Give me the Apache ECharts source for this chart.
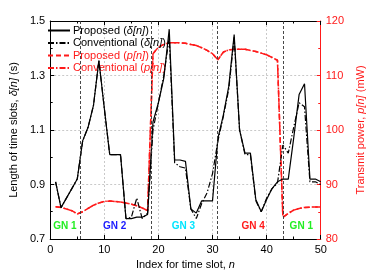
<!DOCTYPE html>
<html><head><meta charset="utf-8">
<script src="https://cdn.jsdelivr.net/npm/echarts@6/dist/echarts.min.js"></script>
<style>html,body{margin:0;padding:0;background:#fff}#c{width:374px;height:276px}</style>
</head><body><div id="c"></div>
<script>
const slots = [1,2,3,4,5,6,7,8,9,10,11,12,13,14,15,16,17,18,19,20,21,22,23,24,25,26,27,28,29,30,31,32,33,34,35,36,37,38,39,40,41,42,43,44,45,46,47,48,49,50];
const propDelta = [0.91,0.815,0.85,0.885,0.92,1.06,1.11,1.19,1.355,1.18,1.01,1.01,1.01,0.775,0.775,0.78,0.78,0.79,1.13,1.2,1.29,1.47,0.99,0.99,0.985,0.81,0.795,0.84,0.84,0.84,1.07,1.155,1.26,1.45,1.1,1.015,1.015,0.845,0.80,0.845,0.885,0.91,0.92,0.92,1.07,1.23,1.27,0.92,0.92,0.91];
const convDelta = [0.91,0.815,0.85,0.885,0.92,1.06,1.11,1.19,1.355,1.18,1.01,1.01,1.01,0.775,0.78,0.85,0.775,0.795,1.1,1.2,1.3,1.44,0.98,0.965,0.96,0.81,0.775,0.83,0.87,0.94,1.06,1.15,1.25,1.44,1.1,1.01,1.01,0.84,0.80,0.85,0.885,0.905,1.045,1.015,1.11,1.2,1.185,0.91,0.91,0.9];
const propPower = [85.9,85.8,85.5,85.2,84.6,85.0,85.6,86.2,86.6,86.9,86.95,86.9,86.8,86.6,86.4,86.1,85.7,85.2,114.0,115.2,115.7,116.0,116.0,116.0,115.9,115.7,115.5,115.1,114.6,114.0,112.9,114.3,114.7,114.8,114.8,114.8,114.6,114.4,114.1,113.8,113.3,112.8,84.0,84.7,85.3,85.6,85.8,85.85,85.85,85.85];
const convPower = [85.9,85.8,85.5,85.2,84.6,85.0,85.6,86.2,86.6,86.9,86.95,86.9,86.8,86.6,86.4,86.1,85.7,85.2,114.0,115.2,115.7,116.0,116.0,116.0,115.9,115.7,115.5,115.1,114.6,114.0,112.9,114.3,114.7,114.8,114.8,114.8,114.6,114.4,114.1,113.8,113.3,112.8,84.0,84.7,85.3,85.6,85.8,85.85,85.85,85.85];
const boundaries = [5.5, 18.6, 30.8, 43];
const gnNames = ['GN 1','GN 2','GN 3','GN 4','GN 1'];
const gnX = [2.7, 11.9, 24.6, 37.5, 46.4];
const gnY = 0.746;
const gnColors = ['#22ee22','#1a1aff','#00e5ff','#ff1a1a','#22ee22'];
const seriesNames = ['Proposed (δ[n])','Conventional (δ[n])','Proposed (p[n])','Conventional (p[n])'];

const FONT = 'Liberation Sans, Arial, sans-serif';
const pair = (xs, ys) => xs.map((x,i)=>[x, ys[i]]);

const chart = echarts.init(document.getElementById('c'), null, {renderer:'canvas'});
const tickStyle = {show:true, inside:true, length:4, lineStyle:{color:'#000', width:1}};
const minor = {show:true, splitNumber:2, length:2.5, lineStyle:{color:'#000', width:1}};
const grid = {show:true, lineStyle:{color:'#bbb', type:[2,2], width:0.8}};

chart.setOption({
  animation:false,
  grid:{left:41, right:38, top:21, bottom:37, containLabel:false},
  legend:{
    orient:'vertical', left:42, top:20, itemWidth:22, itemHeight:10, itemGap:1.5,
    itemStyle:{opacity:0},
    data: seriesNames.map((n,i)=>({name:n})),
    formatter: function(name){
      const red = name.indexOf('p[n]')>=0;
      const m = name.match(/^(.*\()(.*)(\))$/);
      return red ? '{ra|'+m[1]+'}{rb|'+m[2]+'}{ra|'+m[3]+'}' : '{a|'+m[1]+'}{b|'+m[2]+'}{a|'+m[3]+'}';
    },
    textStyle:{fontFamily:FONT, fontSize:11, padding:[0,0,0,-2],
      rich:{a:{color:'#000',fontSize:11,fontFamily:FONT}, b:{color:'#000',fontSize:11,fontStyle:'italic',fontFamily:FONT},
            ra:{color:'#ff1a1a',fontSize:11,fontFamily:FONT}, rb:{color:'#ff1a1a',fontSize:11,fontStyle:'italic',fontFamily:FONT}}}
  },
  xAxis:[{
    type:'value', min:0, max:50, interval:10, position:'bottom',
    axisLine:{show:true, onZero:false, lineStyle:{color:'#000', width:1}},
    axisTick:tickStyle, minorTick:minor, splitLine:grid,
    axisLabel:{color:'#000', fontSize:11, fontFamily:FONT, margin:5},
    name:'{a|Index for time slot, }{b|n}', nameLocation:'middle', nameGap:20,
    nameTextStyle:{rich:{a:{fontSize:11,fontFamily:FONT,color:'#000'}, b:{fontSize:11,fontFamily:FONT,fontStyle:'italic',color:'#000'}}}
  },{
    type:'value', min:0, max:50, interval:10, position:'top',
    axisLine:{show:true, onZero:false, lineStyle:{color:'#000', width:1}},
    axisTick:tickStyle, minorTick:minor, splitLine:{show:false}, axisLabel:{show:false}
  }],
  yAxis:[{
    type:'value', min:0.7, max:1.5, interval:0.2, position:'left',
    axisLine:{show:true, onZero:false, lineStyle:{color:'#000', width:1}},
    axisTick:tickStyle, minorTick:minor, splitLine:grid,
    axisLabel:{color:'#000', fontSize:11, fontFamily:FONT, margin:5, formatter:v=>v.toFixed(1)},
    name:'{a|Length of time slots, }{b|δ[n]}{a| (s)}', nameLocation:'middle', nameGap:22, nameRotate:90,
    nameTextStyle:{rich:{a:{fontSize:11,fontFamily:FONT,color:'#000'}, b:{fontSize:11,fontFamily:FONT,fontStyle:'italic',color:'#000'}}}
  },{
    type:'value', min:80, max:120, interval:10, position:'right',
    axisLine:{show:true, onZero:false, lineStyle:{color:'#ff1a1a', width:1}},
    axisTick:{show:true, inside:true, length:4, lineStyle:{color:'#ff1a1a', width:1}},
    minorTick:{show:true, splitNumber:2, length:2.5, lineStyle:{color:'#ff1a1a', width:1}},
    splitLine:{show:false},
    axisLabel:{color:'#ff1a1a', fontSize:11, fontFamily:FONT, margin:5},
    name:'{a|Transmit power, }{b|p[n]}{a| (mW)}', nameLocation:'middle', nameGap:24, nameRotate:90,
    nameTextStyle:{rich:{a:{fontSize:11,fontFamily:FONT,color:'#ff1a1a'}, b:{fontSize:11,fontFamily:FONT,fontStyle:'italic',color:'#ff1a1a'}}}
  }],
  series:[
    {name:seriesNames[0], type:'line', xAxisIndex:0, yAxisIndex:0, data:pair(slots, propDelta), symbol:'none', z:4,
     lineStyle:{color:'#000', width:1.2, type:'solid'}, itemStyle:{color:'#000'},
     markLine:{silent:true, symbol:'none', label:{show:false}, lineStyle:{color:'#333', type:[3,2], width:0.9},
       data: boundaries.map(b=>({xAxis:b}))},
     markPoint:{silent:true, symbol:'circle', symbolSize:0,
       data: gnNames.map((g,i)=>({coord:[gnX[i], gnY], value:g,
         label:{show:true, position:'inside', formatter:g, color:gnColors[i], fontWeight:'bold', fontSize:10, fontFamily:FONT}}))}
    },
    {name:seriesNames[1], type:'line', xAxisIndex:0, yAxisIndex:0, data:pair(slots, convDelta), symbol:'none', z:4,
     lineStyle:{color:'#000', width:1.2, type:[6,2,1.5,2]}, itemStyle:{color:'#000'}},
    {name:seriesNames[2], type:'line', xAxisIndex:0, yAxisIndex:1, data:pair(slots, propPower), symbol:'none', z:3,
     lineStyle:{color:'#ff1a1a', width:1.5, type:[5,3]}, itemStyle:{color:'#ff1a1a'}},
    {name:seriesNames[3], type:'line', xAxisIndex:0, yAxisIndex:1, data:pair(slots, convPower), symbol:'none', z:3,
     lineStyle:{color:'#ff1a1a', width:1.5, type:[6,2,1.5,2]}, itemStyle:{color:'#ff1a1a'}}
  ]
});
</script></body></html>
